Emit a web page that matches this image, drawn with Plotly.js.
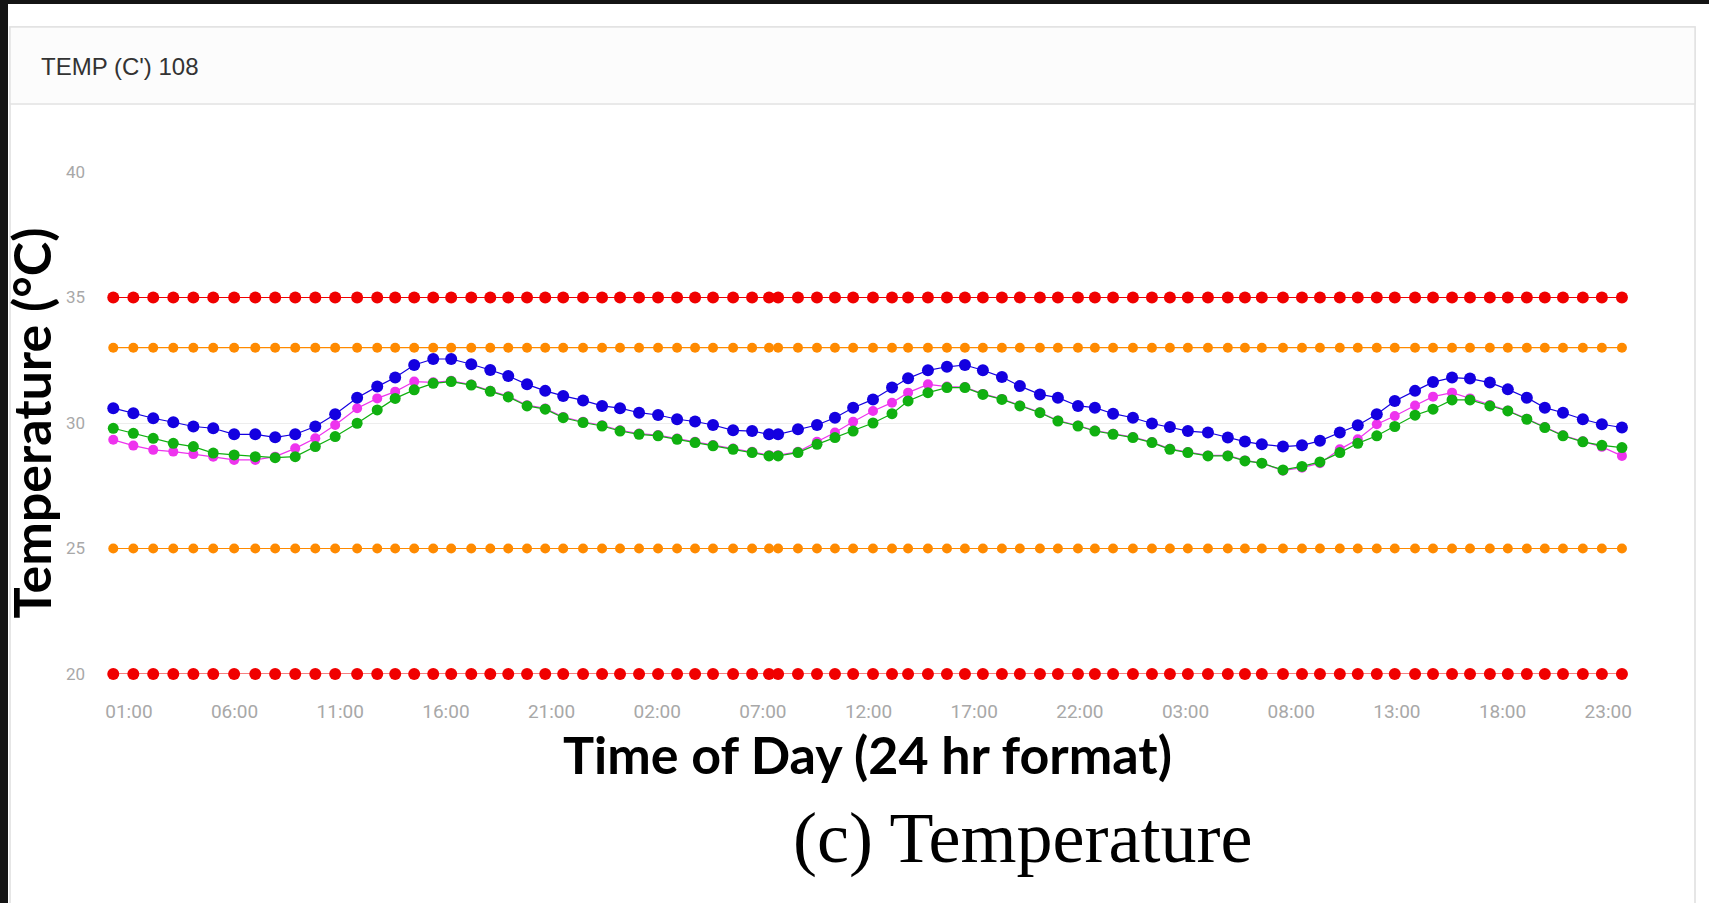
<!DOCTYPE html>
<html>
<head>
<meta charset="utf-8">
<script src="https://cdn.plot.ly/plotly-3.0.1.min.js"></script>
<style>
  html, body { margin: 0; padding: 0; background: #ffffff; }
  #chart { width: 1709px; height: 903px; }
</style>
</head>
<body>
<div id="chart"></div>
<script>
// ---- data (hours elapsed from 00:00 of day 1) ----
const times = [0.26,1.21,2.15,3.10,4.05,4.99,5.98,6.98,7.92,8.87,
  9.82,10.76,11.80,12.75,13.60,14.50,15.40,16.25,17.20,18.10,
  18.95,19.84,20.70,21.55,22.49,23.39,24.24,25.14,26.04,26.94,
  27.79,28.64,29.59,30.49,31.29,31.72,32.66,33.56,34.41,35.27,
  36.21,
  37.11,37.87,38.81,39.71,40.56,41.41,42.31,43.16,44.11,44.96,
  45.91,46.71,47.57,48.51,49.41,50.26,51.11,52.06,53.00,53.81,
  54.61,
  55.61,56.51,57.36,58.30,59.15,60.05,60.90,61.86,62.71,63.61,
  64.46,65.40,66.25,67.15,68.00,68.86,69.80,70.70,71.65];

const blueTemp = [30.59,30.39,30.19,30.03,29.86,29.79,29.55,29.55,29.43,29.55,
  29.86,30.35,31.01,31.45,31.81,32.31,32.55,32.55,32.34,32.11,
  31.87,31.54,31.28,31.08,30.90,30.68,30.59,30.41,30.32,30.15,
  30.06,29.92,29.71,29.68,29.55,29.55,29.75,29.92,30.21,30.61,
  30.94,
  31.41,31.78,32.10,32.24,32.31,32.10,31.83,31.47,31.14,31.01,
  30.68,30.61,30.37,30.21,29.98,29.84,29.68,29.62,29.42,29.26,
  29.15,
  29.06,29.11,29.29,29.62,29.91,30.35,30.88,31.28,31.63,31.81,
  31.77,31.61,31.34,31.01,30.61,30.41,30.15,29.95,29.82];

const greenTemp = [29.79,29.59,29.39,29.19,29.06,28.80,28.73,28.66,28.62,28.66,
  29.06,29.46,29.99,30.52,30.98,31.32,31.58,31.65,31.51,31.26,
  31.04,30.68,30.55,30.21,30.02,29.88,29.68,29.55,29.49,29.35,
  29.22,29.09,28.95,28.82,28.69,28.69,28.82,29.15,29.42,29.68,
  30.00,
  30.37,30.88,31.21,31.41,31.41,31.14,30.94,30.68,30.41,30.08,
  29.88,29.68,29.55,29.42,29.22,28.95,28.82,28.69,28.69,28.49,
  28.40,
  28.13,28.27,28.45,28.82,29.19,29.49,29.86,30.31,30.55,30.92,
  30.92,30.68,30.48,30.15,29.82,29.49,29.25,29.11,29.02];

const magentaTemp = [29.33,29.10,28.93,28.86,28.76,28.66,28.53,28.53,28.66,28.99,
  29.39,29.92,30.59,30.98,31.25,31.65,31.62,31.68,31.53,31.28,
  31.07,30.71,30.58,30.24,30.05,29.91,29.71,29.58,29.52,29.38,
  29.25,29.12,28.98,28.85,28.72,28.72,28.85,29.25,29.62,30.05,
  30.48,
  30.81,31.21,31.54,31.45,31.43,31.16,30.96,30.70,30.43,30.10,
  29.90,29.70,29.57,29.44,29.24,28.97,28.84,28.71,28.71,28.51,
  28.40,
  28.10,28.22,28.40,28.95,29.35,29.95,30.28,30.70,31.05,31.21,
  30.98,30.72,30.50,30.17,29.84,29.51,29.27,29.05,28.69];

// alarm / warning thresholds (constant)
const criticalHigh = 35;
const warningHigh = 33;
const warningLow = 25;
const criticalLow = 20;

const tickHours = [1, 6, 11, 16, 21, 26, 31, 36, 41, 46, 51, 56, 61, 66, 71];
const tickLabels = ["01:00","06:00","11:00","16:00","21:00","02:00","07:00","12:00",
  "17:00","22:00","03:00","08:00","13:00","18:00","23:00"];
const yTicks = [20, 25, 30, 35, 40];

// ---- geometry helpers (pixel -> paper) ----
const W = 1709, H = 903;
const M = { l: 112, r: 86, t: 172, b: 229 };
const PW = W - M.l - M.r, PH = H - M.t - M.b;
const px = x => (x - M.l) / PW;
const py = y => (H - M.b - y) / PH;

const constLine = v => times.map(() => v);

function series(y, color, size, width) {
  return {
    x: times, y: y, type: 'scatter', mode: 'lines+markers',
    line: { color: color, width: width },
    marker: { color: color, size: size },
    cliponaxis: false, hoverinfo: 'skip'
  };
}

const traces = [
  series(constLine(criticalHigh), '#f00000', 12, 1.2),
  series(constLine(criticalLow), '#f00000', 12, 1.2),
  series(constLine(warningHigh), '#ff8a00', 10, 1.2),
  series(constLine(warningLow), '#ff8a00', 10, 1.2),
  series(magentaTemp, '#ee33ee', 10, 1.2),
  series(greenTemp, '#10b010', 11, 1.2),
  series(blueTemp, '#1400e0', 12, 1.2)
];

const layout = {
  width: W, height: H,
  margin: M,
  paper_bgcolor: '#ffffff',
  plot_bgcolor: '#ffffff',
  showlegend: false,
  xaxis: {
    range: [0.2, 71.7],
    tickmode: 'array', tickvals: tickHours, ticktext: tickLabels,
    showgrid: false, zeroline: false, showline: false, ticks: '',
    ticklabelstandoff: 24,
    tickfont: { family: 'Roboto', size: 19, color: '#a8a8a8' },
    title: { text: 'Time of Day (24 hr format)', standoff: 8,
      font: { family: 'Lato', size: 52, color: '#000000', weight: 'bold' } }
  },
  yaxis: {
    range: [20, 40],
    tickmode: 'array', tickvals: yTicks,
    showgrid: true, gridcolor: '#ededed', gridwidth: 1,
    zeroline: false, showline: false, ticks: '',
    ticklabelstandoff: 26,
    tickfont: { family: 'Roboto', size: 17, color: '#a8a8a8' },
    title: { text: 'Temperature (°C)', standoff: 4,
      font: { family: 'Lato', size: 52, color: '#000000', weight: 'bold' } }
  },
  shapes: [
    // card outline
    { type: 'rect', xref: 'paper', yref: 'paper', layer: 'below',
      x0: px(10), x1: px(1695), y0: py(27), y1: py(960),
      line: { color: '#dedede', width: 1.5 }, fillcolor: 'rgba(0,0,0,0)' },
    // card header
    { type: 'rect', xref: 'paper', yref: 'paper', layer: 'below',
      x0: px(10), x1: px(1695), y0: py(27), y1: py(104),
      line: { color: '#e2e2e2', width: 1.5 }, fillcolor: '#fcfcfc' },
    // black frame (top and left)
    { type: 'rect', xref: 'paper', yref: 'paper', layer: 'above',
      x0: px(0), x1: px(W), y0: py(0), y1: py(4),
      line: { width: 0 }, fillcolor: '#141414' },
    { type: 'rect', xref: 'paper', yref: 'paper', layer: 'above',
      x0: px(0), x1: px(8), y0: py(0), y1: py(H),
      line: { width: 0 }, fillcolor: '#141414' }
  ],
  annotations: [
    { text: "TEMP (C') 108", xref: 'paper', yref: 'paper',
      x: px(39), y: py(67), xanchor: 'left', yanchor: 'middle', showarrow: false,
      font: { family: 'Liberation Sans', size: 24, color: '#333333' } },
    { text: '(c) Temperature', xref: 'paper', yref: 'paper',
      x: px(1022), y: py(838), xanchor: 'center', yanchor: 'middle', showarrow: false,
      font: { family: 'Liberation Serif', size: 72, color: '#000000' } }
  ]
};

Plotly.newPlot('chart', traces, layout, { displayModeBar: false, staticPlot: true });
</script>
</body>
</html>
